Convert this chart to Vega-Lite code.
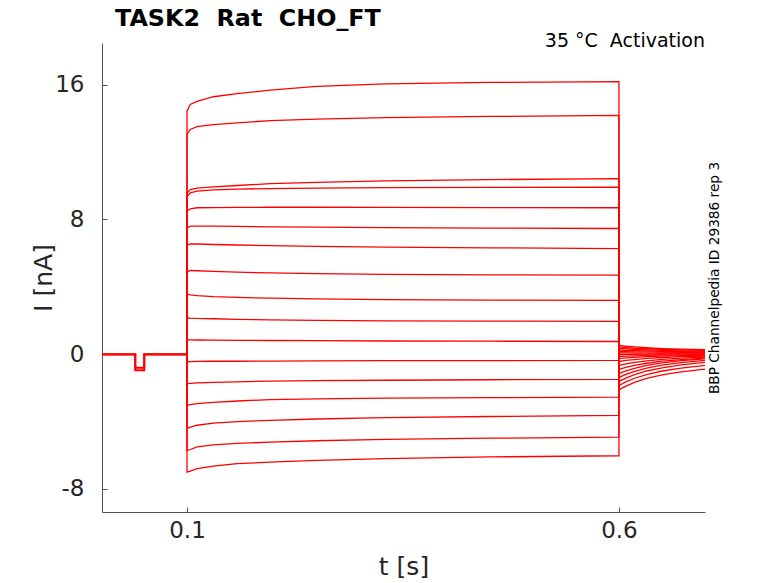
{
  "$schema": "https://vega.github.io/schema/vega-lite/v6.json",
  "width": 603,
  "height": 469,
  "autosize": "none",
  "padding": {"left": 102, "top": 43, "right": 73, "bottom": 71},
  "background": "white",
  "config": {"view": {"stroke": null}, "font": "DejaVu Sans"},
  "title": {
    "text": "TASK2\u00a0\u00a0Rat\u00a0\u00a0CHO_FT",
    "anchor": "start",
    "frame": "group",
    "dx": 13,
    "offset": 1,
    "fontSize": 23.8,
    "fontWeight": "bold",
    "font": "DejaVu Sans",
    "color": "#000000"
  },
  "datasets": {
    "base": [
      {"k": "a", "n": 0, "t": 0.0016, "i": 0},
      {"k": "a", "n": 1, "t": 0.0401, "i": 0},
      {"k": "a", "n": 2, "t": 0.0401, "i": -0.8},
      {"k": "a", "n": 3, "t": 0.0505, "i": -0.8},
      {"k": "a", "n": 4, "t": 0.0505, "i": 0},
      {"k": "a", "n": 5, "t": 0.1, "i": 0},
      {"k": "b", "n": 0, "t": 0.0016, "i": -0.02},
      {"k": "b", "n": 1, "t": 0.0401, "i": -0.02},
      {"k": "b", "n": 2, "t": 0.0401, "i": -0.95},
      {"k": "b", "n": 3, "t": 0.0505, "i": -0.95},
      {"k": "b", "n": 4, "t": 0.0505, "i": -0.02},
      {"k": "b", "n": 5, "t": 0.1, "i": -0.02}
    ],
    "traces": [
      {"k": 1, "n": 0, "t": 0.1, "i": 0}, {"k": 1, "n": 1, "t": 0.1, "i": 14.42}, {"k": 1, "n": 2, "t": 0.1038, "i": 14.82}, {"k": 1, "n": 3, "t": 0.1116, "i": 15.01}, {"k": 1, "n": 4, "t": 0.1305, "i": 15.28}, {"k": 1, "n": 5, "t": 0.158, "i": 15.47}, {"k": 1, "n": 6, "t": 0.1965, "i": 15.67}, {"k": 1, "n": 7, "t": 0.25, "i": 15.9}, {"k": 1, "n": 8, "t": 0.33, "i": 16.04}, {"k": 1, "n": 9, "t": 0.45, "i": 16.13}, {"k": 1, "n": 10, "t": 0.6, "i": 16.18},
      {"k": 1, "n": 11, "t": 0.6, "i": -2.12}, {"k": 1, "n": 12, "t": 0.608, "i": -1.9}, {"k": 1, "n": 13, "t": 0.618, "i": -1.68}, {"k": 1, "n": 14, "t": 0.632, "i": -1.44}, {"k": 1, "n": 15, "t": 0.65, "i": -1.23}, {"k": 1, "n": 16, "t": 0.672, "i": -1.05}, {"k": 1, "n": 17, "t": 0.6996, "i": -0.89},

      {"k": 2, "n": 0, "t": 0.1, "i": 0}, {"k": 2, "n": 1, "t": 0.1, "i": 13.04}, {"k": 2, "n": 2, "t": 0.1038, "i": 13.34}, {"k": 2, "n": 3, "t": 0.1116, "i": 13.5}, {"k": 2, "n": 4, "t": 0.1305, "i": 13.63}, {"k": 2, "n": 5, "t": 0.158, "i": 13.73}, {"k": 2, "n": 6, "t": 0.1965, "i": 13.86}, {"k": 2, "n": 7, "t": 0.25, "i": 13.95}, {"k": 2, "n": 8, "t": 0.33, "i": 14.04}, {"k": 2, "n": 9, "t": 0.45, "i": 14.11}, {"k": 2, "n": 10, "t": 0.6, "i": 14.17},
      {"k": 2, "n": 11, "t": 0.6, "i": -1.86}, {"k": 2, "n": 12, "t": 0.608, "i": -1.65}, {"k": 2, "n": 13, "t": 0.618, "i": -1.43}, {"k": 2, "n": 14, "t": 0.632, "i": -1.21}, {"k": 2, "n": 15, "t": 0.65, "i": -1.0}, {"k": 2, "n": 16, "t": 0.672, "i": -0.83}, {"k": 2, "n": 17, "t": 0.6996, "i": -0.67},

      {"k": 3, "n": 0, "t": 0.1, "i": 0}, {"k": 3, "n": 1, "t": 0.1, "i": 9.55}, {"k": 3, "n": 2, "t": 0.1038, "i": 9.77}, {"k": 3, "n": 3, "t": 0.1116, "i": 9.85}, {"k": 3, "n": 4, "t": 0.1305, "i": 9.93}, {"k": 3, "n": 5, "t": 0.158, "i": 10.01}, {"k": 3, "n": 6, "t": 0.1965, "i": 10.12}, {"k": 3, "n": 7, "t": 0.25, "i": 10.2}, {"k": 3, "n": 8, "t": 0.33, "i": 10.29}, {"k": 3, "n": 9, "t": 0.45, "i": 10.36}, {"k": 3, "n": 10, "t": 0.6, "i": 10.42},
      {"k": 3, "n": 11, "t": 0.6, "i": -1.62}, {"k": 3, "n": 12, "t": 0.608, "i": -1.42}, {"k": 3, "n": 13, "t": 0.618, "i": -1.21}, {"k": 3, "n": 14, "t": 0.632, "i": -1.0}, {"k": 3, "n": 15, "t": 0.65, "i": -0.81}, {"k": 3, "n": 16, "t": 0.672, "i": -0.64}, {"k": 3, "n": 17, "t": 0.6996, "i": -0.49},

      {"k": 4, "n": 0, "t": 0.1, "i": 0}, {"k": 4, "n": 1, "t": 0.1, "i": 9.35}, {"k": 4, "n": 2, "t": 0.1038, "i": 9.58}, {"k": 4, "n": 3, "t": 0.1116, "i": 9.68}, {"k": 4, "n": 4, "t": 0.1305, "i": 9.75}, {"k": 4, "n": 5, "t": 0.158, "i": 9.8}, {"k": 4, "n": 6, "t": 0.1965, "i": 9.83}, {"k": 4, "n": 7, "t": 0.25, "i": 9.86}, {"k": 4, "n": 8, "t": 0.33, "i": 9.88}, {"k": 4, "n": 9, "t": 0.45, "i": 9.9}, {"k": 4, "n": 10, "t": 0.6, "i": 9.91},
      {"k": 4, "n": 11, "t": 0.6, "i": -1.38}, {"k": 4, "n": 12, "t": 0.608, "i": -1.2}, {"k": 4, "n": 13, "t": 0.618, "i": -1.02}, {"k": 4, "n": 14, "t": 0.632, "i": -0.83}, {"k": 4, "n": 15, "t": 0.65, "i": -0.65}, {"k": 4, "n": 16, "t": 0.672, "i": -0.5}, {"k": 4, "n": 17, "t": 0.6996, "i": -0.37},

      {"k": 5, "n": 0, "t": 0.1, "i": 0}, {"k": 5, "n": 1, "t": 0.1, "i": 8.49}, {"k": 5, "n": 2, "t": 0.1038, "i": 8.63}, {"k": 5, "n": 3, "t": 0.1116, "i": 8.69}, {"k": 5, "n": 4, "t": 0.1305, "i": 8.7}, {"k": 5, "n": 5, "t": 0.158, "i": 8.71}, {"k": 5, "n": 6, "t": 0.1965, "i": 8.72}, {"k": 5, "n": 7, "t": 0.25, "i": 8.72}, {"k": 5, "n": 8, "t": 0.33, "i": 8.71}, {"k": 5, "n": 9, "t": 0.45, "i": 8.7}, {"k": 5, "n": 10, "t": 0.6, "i": 8.69},
      {"k": 5, "n": 11, "t": 0.6, "i": -1.15}, {"k": 5, "n": 12, "t": 0.608, "i": -0.99}, {"k": 5, "n": 13, "t": 0.618, "i": -0.84}, {"k": 5, "n": 14, "t": 0.632, "i": -0.67}, {"k": 5, "n": 15, "t": 0.65, "i": -0.52}, {"k": 5, "n": 16, "t": 0.672, "i": -0.39}, {"k": 5, "n": 17, "t": 0.6996, "i": -0.28},

      {"k": 6, "n": 0, "t": 0.1, "i": 0}, {"k": 6, "n": 1, "t": 0.1, "i": 7.5}, {"k": 6, "n": 2, "t": 0.1038, "i": 7.6}, {"k": 6, "n": 3, "t": 0.1116, "i": 7.6}, {"k": 6, "n": 4, "t": 0.1305, "i": 7.6}, {"k": 6, "n": 5, "t": 0.158, "i": 7.58}, {"k": 6, "n": 6, "t": 0.1965, "i": 7.56}, {"k": 6, "n": 7, "t": 0.25, "i": 7.54}, {"k": 6, "n": 8, "t": 0.33, "i": 7.51}, {"k": 6, "n": 9, "t": 0.45, "i": 7.48}, {"k": 6, "n": 10, "t": 0.6, "i": 7.46},
      {"k": 6, "n": 11, "t": 0.6, "i": -0.91}, {"k": 6, "n": 12, "t": 0.608, "i": -0.79}, {"k": 6, "n": 13, "t": 0.618, "i": -0.67}, {"k": 6, "n": 14, "t": 0.632, "i": -0.54}, {"k": 6, "n": 15, "t": 0.65, "i": -0.42}, {"k": 6, "n": 16, "t": 0.672, "i": -0.32}, {"k": 6, "n": 17, "t": 0.6996, "i": -0.23},

      {"k": 7, "n": 0, "t": 0.1, "i": 0}, {"k": 7, "n": 1, "t": 0.1, "i": 6.45}, {"k": 7, "n": 2, "t": 0.1038, "i": 6.55}, {"k": 7, "n": 3, "t": 0.1116, "i": 6.54}, {"k": 7, "n": 4, "t": 0.1305, "i": 6.51}, {"k": 7, "n": 5, "t": 0.158, "i": 6.48}, {"k": 7, "n": 6, "t": 0.1965, "i": 6.44}, {"k": 7, "n": 7, "t": 0.25, "i": 6.4}, {"k": 7, "n": 8, "t": 0.33, "i": 6.35}, {"k": 7, "n": 9, "t": 0.45, "i": 6.31}, {"k": 7, "n": 10, "t": 0.6, "i": 6.27},
      {"k": 7, "n": 11, "t": 0.6, "i": -0.67}, {"k": 7, "n": 12, "t": 0.608, "i": -0.58}, {"k": 7, "n": 13, "t": 0.618, "i": -0.49}, {"k": 7, "n": 14, "t": 0.632, "i": -0.4}, {"k": 7, "n": 15, "t": 0.65, "i": -0.31}, {"k": 7, "n": 16, "t": 0.672, "i": -0.24}, {"k": 7, "n": 17, "t": 0.6996, "i": -0.17},

      {"k": 8, "n": 0, "t": 0.1, "i": 0}, {"k": 8, "n": 1, "t": 0.1, "i": 4.87}, {"k": 8, "n": 2, "t": 0.1038, "i": 4.97}, {"k": 8, "n": 3, "t": 0.1116, "i": 4.95}, {"k": 8, "n": 4, "t": 0.1305, "i": 4.91}, {"k": 8, "n": 5, "t": 0.158, "i": 4.87}, {"k": 8, "n": 6, "t": 0.1965, "i": 4.82}, {"k": 8, "n": 7, "t": 0.25, "i": 4.78}, {"k": 8, "n": 8, "t": 0.33, "i": 4.74}, {"k": 8, "n": 9, "t": 0.45, "i": 4.71}, {"k": 8, "n": 10, "t": 0.6, "i": 4.69},
      {"k": 8, "n": 11, "t": 0.6, "i": -0.43}, {"k": 8, "n": 12, "t": 0.608, "i": -0.37}, {"k": 8, "n": 13, "t": 0.618, "i": -0.32}, {"k": 8, "n": 14, "t": 0.632, "i": -0.25}, {"k": 8, "n": 15, "t": 0.65, "i": -0.2}, {"k": 8, "n": 16, "t": 0.672, "i": -0.15}, {"k": 8, "n": 17, "t": 0.6996, "i": -0.11},

      {"k": 9, "n": 0, "t": 0.1, "i": 0}, {"k": 9, "n": 1, "t": 0.1, "i": 3.56}, {"k": 9, "n": 2, "t": 0.1038, "i": 3.52}, {"k": 9, "n": 3, "t": 0.1116, "i": 3.48}, {"k": 9, "n": 4, "t": 0.1305, "i": 3.42}, {"k": 9, "n": 5, "t": 0.158, "i": 3.37}, {"k": 9, "n": 6, "t": 0.1965, "i": 3.32}, {"k": 9, "n": 7, "t": 0.25, "i": 3.28}, {"k": 9, "n": 8, "t": 0.33, "i": 3.24}, {"k": 9, "n": 9, "t": 0.45, "i": 3.21}, {"k": 9, "n": 10, "t": 0.6, "i": 3.19},
      {"k": 9, "n": 11, "t": 0.6, "i": -0.26}, {"k": 9, "n": 12, "t": 0.608, "i": -0.22}, {"k": 9, "n": 13, "t": 0.618, "i": -0.19}, {"k": 9, "n": 14, "t": 0.632, "i": -0.15}, {"k": 9, "n": 15, "t": 0.65, "i": -0.12}, {"k": 9, "n": 16, "t": 0.672, "i": -0.09}, {"k": 9, "n": 17, "t": 0.6996, "i": -0.06},

      {"k": 10, "n": 0, "t": 0.1, "i": 0}, {"k": 10, "n": 1, "t": 0.1, "i": 2.16}, {"k": 10, "n": 2, "t": 0.1038, "i": 2.14}, {"k": 10, "n": 3, "t": 0.1116, "i": 2.12}, {"k": 10, "n": 4, "t": 0.1305, "i": 2.1}, {"k": 10, "n": 5, "t": 0.158, "i": 2.07}, {"k": 10, "n": 6, "t": 0.1965, "i": 2.03}, {"k": 10, "n": 7, "t": 0.25, "i": 2.0}, {"k": 10, "n": 8, "t": 0.33, "i": 1.98}, {"k": 10, "n": 9, "t": 0.45, "i": 1.96}, {"k": 10, "n": 10, "t": 0.6, "i": 1.94},
      {"k": 10, "n": 11, "t": 0.6, "i": -0.14}, {"k": 10, "n": 12, "t": 0.608, "i": -0.12}, {"k": 10, "n": 13, "t": 0.618, "i": -0.1}, {"k": 10, "n": 14, "t": 0.632, "i": -0.07}, {"k": 10, "n": 15, "t": 0.65, "i": -0.05}, {"k": 10, "n": 16, "t": 0.672, "i": -0.04}, {"k": 10, "n": 17, "t": 0.6996, "i": -0.02},

      {"k": 11, "n": 0, "t": 0.1, "i": 0}, {"k": 11, "n": 1, "t": 0.1, "i": 0.86}, {"k": 11, "n": 2, "t": 0.1038, "i": 0.85}, {"k": 11, "n": 3, "t": 0.1116, "i": 0.84}, {"k": 11, "n": 4, "t": 0.1305, "i": 0.83}, {"k": 11, "n": 5, "t": 0.158, "i": 0.82}, {"k": 11, "n": 6, "t": 0.1965, "i": 0.81}, {"k": 11, "n": 7, "t": 0.25, "i": 0.8}, {"k": 11, "n": 8, "t": 0.33, "i": 0.78}, {"k": 11, "n": 9, "t": 0.45, "i": 0.77}, {"k": 11, "n": 10, "t": 0.6, "i": 0.75},
      {"k": 11, "n": 11, "t": 0.6, "i": -0.02}, {"k": 11, "n": 12, "t": 0.608, "i": -0.01}, {"k": 11, "n": 13, "t": 0.618, "i": -0.01}, {"k": 11, "n": 14, "t": 0.632, "i": 0.0}, {"k": 11, "n": 15, "t": 0.65, "i": 0.01}, {"k": 11, "n": 16, "t": 0.672, "i": 0.015}, {"k": 11, "n": 17, "t": 0.6996, "i": 0.02},

      {"k": 12, "n": 0, "t": 0.1, "i": 0}, {"k": 12, "n": 1, "t": 0.1, "i": -0.45}, {"k": 12, "n": 2, "t": 0.1038, "i": -0.44}, {"k": 12, "n": 3, "t": 0.1116, "i": -0.43}, {"k": 12, "n": 4, "t": 0.1305, "i": -0.42}, {"k": 12, "n": 5, "t": 0.158, "i": -0.42}, {"k": 12, "n": 6, "t": 0.1965, "i": -0.41}, {"k": 12, "n": 7, "t": 0.25, "i": -0.4}, {"k": 12, "n": 8, "t": 0.33, "i": -0.39}, {"k": 12, "n": 9, "t": 0.45, "i": -0.38}, {"k": 12, "n": 10, "t": 0.6, "i": -0.37},
      {"k": 12, "n": 11, "t": 0.6, "i": 0.07}, {"k": 12, "n": 12, "t": 0.608, "i": 0.07}, {"k": 12, "n": 13, "t": 0.618, "i": 0.066}, {"k": 12, "n": 14, "t": 0.632, "i": 0.065}, {"k": 12, "n": 15, "t": 0.65, "i": 0.063}, {"k": 12, "n": 16, "t": 0.672, "i": 0.061}, {"k": 12, "n": 17, "t": 0.6996, "i": 0.06},

      {"k": 13, "n": 0, "t": 0.1, "i": 0}, {"k": 13, "n": 1, "t": 0.1, "i": -1.76}, {"k": 13, "n": 2, "t": 0.1038, "i": -1.74}, {"k": 13, "n": 3, "t": 0.1116, "i": -1.71}, {"k": 13, "n": 4, "t": 0.1305, "i": -1.67}, {"k": 13, "n": 5, "t": 0.158, "i": -1.64}, {"k": 13, "n": 6, "t": 0.1965, "i": -1.6}, {"k": 13, "n": 7, "t": 0.25, "i": -1.57}, {"k": 13, "n": 8, "t": 0.33, "i": -1.55}, {"k": 13, "n": 9, "t": 0.45, "i": -1.52}, {"k": 13, "n": 10, "t": 0.6, "i": -1.5},
      {"k": 13, "n": 11, "t": 0.6, "i": 0.16}, {"k": 13, "n": 12, "t": 0.608, "i": 0.15}, {"k": 13, "n": 13, "t": 0.618, "i": 0.14}, {"k": 13, "n": 14, "t": 0.632, "i": 0.13}, {"k": 13, "n": 15, "t": 0.65, "i": 0.12}, {"k": 13, "n": 16, "t": 0.672, "i": 0.11}, {"k": 13, "n": 17, "t": 0.6996, "i": 0.1},

      {"k": 14, "n": 0, "t": 0.1, "i": 0}, {"k": 14, "n": 1, "t": 0.1, "i": -3.04}, {"k": 14, "n": 2, "t": 0.1038, "i": -3.0}, {"k": 14, "n": 3, "t": 0.1116, "i": -2.94}, {"k": 14, "n": 4, "t": 0.1305, "i": -2.86}, {"k": 14, "n": 5, "t": 0.158, "i": -2.78}, {"k": 14, "n": 6, "t": 0.1965, "i": -2.7}, {"k": 14, "n": 7, "t": 0.25, "i": -2.65}, {"k": 14, "n": 8, "t": 0.33, "i": -2.61}, {"k": 14, "n": 9, "t": 0.45, "i": -2.58}, {"k": 14, "n": 10, "t": 0.6, "i": -2.55},
      {"k": 14, "n": 11, "t": 0.6, "i": 0.25}, {"k": 14, "n": 12, "t": 0.608, "i": 0.23}, {"k": 14, "n": 13, "t": 0.618, "i": 0.21}, {"k": 14, "n": 14, "t": 0.632, "i": 0.19}, {"k": 14, "n": 15, "t": 0.65, "i": 0.17}, {"k": 14, "n": 16, "t": 0.672, "i": 0.15}, {"k": 14, "n": 17, "t": 0.6996, "i": 0.14},

      {"k": 15, "n": 0, "t": 0.1, "i": 0}, {"k": 15, "n": 1, "t": 0.1, "i": -4.41}, {"k": 15, "n": 2, "t": 0.1038, "i": -4.33}, {"k": 15, "n": 3, "t": 0.1116, "i": -4.22}, {"k": 15, "n": 4, "t": 0.1305, "i": -4.1}, {"k": 15, "n": 5, "t": 0.158, "i": -4.0}, {"k": 15, "n": 6, "t": 0.1965, "i": -3.93}, {"k": 15, "n": 7, "t": 0.25, "i": -3.85}, {"k": 15, "n": 8, "t": 0.33, "i": -3.77}, {"k": 15, "n": 9, "t": 0.45, "i": -3.7}, {"k": 15, "n": 10, "t": 0.6, "i": -3.64},
      {"k": 15, "n": 11, "t": 0.6, "i": 0.34}, {"k": 15, "n": 12, "t": 0.608, "i": 0.31}, {"k": 15, "n": 13, "t": 0.618, "i": 0.28}, {"k": 15, "n": 14, "t": 0.632, "i": 0.25}, {"k": 15, "n": 15, "t": 0.65, "i": 0.23}, {"k": 15, "n": 16, "t": 0.672, "i": 0.2}, {"k": 15, "n": 17, "t": 0.6996, "i": 0.18},

      {"k": 16, "n": 0, "t": 0.1, "i": 0}, {"k": 16, "n": 1, "t": 0.1, "i": -5.73}, {"k": 16, "n": 2, "t": 0.1038, "i": -5.66}, {"k": 16, "n": 3, "t": 0.1116, "i": -5.5}, {"k": 16, "n": 4, "t": 0.1305, "i": -5.38}, {"k": 16, "n": 5, "t": 0.158, "i": -5.3}, {"k": 16, "n": 6, "t": 0.1965, "i": -5.22}, {"k": 16, "n": 7, "t": 0.25, "i": -5.14}, {"k": 16, "n": 8, "t": 0.33, "i": -5.06}, {"k": 16, "n": 9, "t": 0.45, "i": -4.99}, {"k": 16, "n": 10, "t": 0.6, "i": -4.93},
      {"k": 16, "n": 11, "t": 0.6, "i": 0.43}, {"k": 16, "n": 12, "t": 0.608, "i": 0.39}, {"k": 16, "n": 13, "t": 0.618, "i": 0.35}, {"k": 16, "n": 14, "t": 0.632, "i": 0.32}, {"k": 16, "n": 15, "t": 0.65, "i": 0.28}, {"k": 16, "n": 16, "t": 0.672, "i": 0.25}, {"k": 16, "n": 17, "t": 0.6996, "i": 0.22},

      {"k": 17, "n": 0, "t": 0.1, "i": 0}, {"k": 17, "n": 1, "t": 0.1, "i": -7.0}, {"k": 17, "n": 2, "t": 0.1038, "i": -6.94}, {"k": 17, "n": 3, "t": 0.1116, "i": -6.8}, {"k": 17, "n": 4, "t": 0.1305, "i": -6.65}, {"k": 17, "n": 5, "t": 0.158, "i": -6.5}, {"k": 17, "n": 6, "t": 0.1965, "i": -6.41}, {"k": 17, "n": 7, "t": 0.25, "i": -6.3}, {"k": 17, "n": 8, "t": 0.33, "i": -6.2}, {"k": 17, "n": 9, "t": 0.45, "i": -6.1}, {"k": 17, "n": 10, "t": 0.6, "i": -6.03},
      {"k": 17, "n": 11, "t": 0.6, "i": 0.52}, {"k": 17, "n": 12, "t": 0.608, "i": 0.47}, {"k": 17, "n": 13, "t": 0.618, "i": 0.43}, {"k": 17, "n": 14, "t": 0.632, "i": 0.38}, {"k": 17, "n": 15, "t": 0.65, "i": 0.33}, {"k": 17, "n": 16, "t": 0.672, "i": 0.29}, {"k": 17, "n": 17, "t": 0.6996, "i": 0.26}
    ]
  },
  "encoding": {
    "x": {
      "field": "t",
      "type": "quantitative",
      "scale": {"domain": [0.0016, 0.6996], "nice": false, "zero": false},
      "axis": {
        "title": "t [s]",
        "values": [0.1, 0.6],
        "labelExpr": "format(datum.value, '.1f')",
        "grid": false,
        "domainColor": "#555555",
        "tickColor": "#555555",
        "tickSize": -5,
        "labelPadding": 12,
        "labelFontSize": 23,
        "labelColor": "#262626",
        "labelFont": "DejaVu Sans",
        "titleFont": "DejaVu Sans",
        "titleFontSize": 25,
        "titleFontWeight": "normal",
        "titleColor": "#262626",
        "titlePadding": 12
      }
    },
    "y": {
      "field": "i",
      "type": "quantitative",
      "scale": {"domain": [-9.37, 18.47], "nice": false, "zero": false},
      "axis": {
        "title": "I [nA]",
        "values": [-8, 0, 8, 16],
        "labelExpr": "'' + datum.value",
        "grid": false,
        "domainColor": "#555555",
        "tickColor": "#555555",
        "tickSize": -5,
        "labelPadding": 23,
        "labelFontSize": 23,
        "labelColor": "#262626",
        "labelFont": "DejaVu Sans",
        "titleFont": "DejaVu Sans",
        "titleFontSize": 25,
        "titleFontWeight": "normal",
        "titleColor": "#262626",
        "titlePadding": -2
      }
    }
  },
  "layer": [
    {
      "data": {"name": "base"},
      "mark": {"type": "line", "color": "#ff0000", "strokeWidth": 2},
      "encoding": {"detail": {"field": "k"}, "order": {"field": "n"}}
    },
    {
      "data": {"name": "traces"},
      "mark": {"type": "line", "color": "#ff0000", "strokeWidth": 1.3},
      "encoding": {"detail": {"field": "k"}, "order": {"field": "n"}}
    },
    {
      "data": {"values": [{"t": 0.6996, "i": 18.24, "label": "35\u00a0°C\u00a0\u00a0Activation"}]},
      "mark": {"type": "text", "align": "right", "baseline": "alphabetic", "fontSize": 19, "font": "DejaVu Sans", "color": "#000000"},
      "encoding": {"text": {"field": "label"}}
    },
    {
      "data": {"values": [{"t": 0.7155, "i": 4.52, "label": "BBP Channelpedia ID 29386 rep 3"}]},
      "mark": {"type": "text", "align": "center", "baseline": "alphabetic", "angle": 270, "fontSize": 13.7, "font": "DejaVu Sans", "color": "#000000"},
      "encoding": {"text": {"field": "label"}}
    }
  ]
}
